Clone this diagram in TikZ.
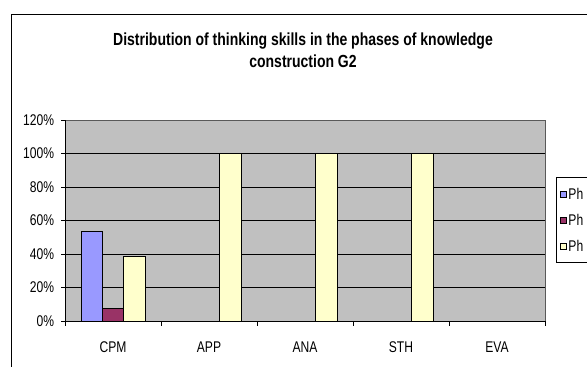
\documentclass[tikz,border=0pt]{standalone}
\usepackage{fontspec}
\setmainfont{Liberation Sans}
\usepackage{tikz}
\usetikzlibrary{positioning}
\definecolor{plotgray}{HTML}{C0C0C0}
\definecolor{phaseA}{HTML}{9999FF}
\definecolor{phaseB}{HTML}{993366}
\definecolor{phaseC}{HTML}{FFFFCC}

\begin{document}
\begin{tikzpicture}[x=1pt, y=-1pt,
		lbl/.style={font=\fontsize{15.5}{18}\selectfont, xscale=0.78, inner sep=0pt},
		ttl/.style={font=\fontsize{17.5}{22}\selectfont\bfseries, xscale=0.8, align=center, inner sep=0pt},
		bar/.style={draw=black, line width=0.6pt}]
				\useasboundingbox (0,0) rectangle (587,367);
				\clip (0,0) rectangle (587,367);
				\fill[white] (0,0) rectangle (587,367);

				% frame of the chart
				\draw[line width=0.8pt] (11,372) -- (11,14) -- (592,14);
				\node[ttl] (title) at (303,50) {Distribution of thinking skills in the phases of knowledge\\construction G2};

				\begin{scope}[shift={(65,321)}, x=1pt, y=1.675pt]
					\fill[plotgray] (0,0) rectangle (480,120);
					\draw[gray!70!black, line width=0.6pt] (0,120) -- (480,120) -- (480,0);
					\foreach \v in {20,40,...,100}
						\draw[line width=0.7pt] (0,\v) -- (480,\v);

					% bars
					\filldraw[bar, fill=phaseA] (16,0) rectangle (37.33,53.85);
					\filldraw[bar, fill=phaseB] (37.33,0) rectangle (58.67,7.69);
					\filldraw[bar, fill=phaseC] (58.67,0) rectangle (80,38.46);
					\foreach \i in {1,2,3}
						\filldraw[bar, fill=phaseC] (96*\i+58.67,0) rectangle (96*\i+80,100);

					% axes
					\draw[line width=0.9pt] (0,0) -- (0,120);
					\draw[line width=0.9pt] (0,0) -- (480,0);
					\foreach \v in {0,20,...,120} {
						\draw[line width=0.8pt] (-4pt,\v) -- (0,\v);
						\node[lbl, anchor=east] (y\v) at ([xshift=-10.7pt]0,\v) {\v\%};
					}
					\foreach \i in {0,...,5}
						\draw[line width=0.8pt] (96*\i,0) -- ++(0pt,-5pt);
					\foreach \n [count=\i from 0] in {CPM,APP,ANA,STH,EVA}
						\node[lbl] (cat\n) at ([yshift=-26pt]96*\i+48,0) {\n};
				\end{scope}

				% legend
				\draw[fill=white, line width=0.6pt] (556,177.3) rectangle (600,262.7);
				\foreach \c/\yy [count=\k] in {phaseA/194,phaseB/220,phaseC/246} {
					\draw[fill=\c, line width=0.5pt] (560.3,\yy-3.2) rectangle ++(6.4,6.4);
					\node[lbl, anchor=west] (leg\k) at (568.3,\yy) {Ph};
				}
			\end{tikzpicture}
\end{document}
